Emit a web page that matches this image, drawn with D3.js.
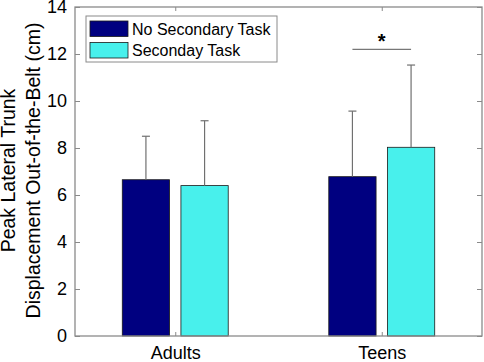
<!DOCTYPE html>
<html lang="en">
<head>
<meta charset="UTF-8">
<title>Peak lateral trunk displacement</title>
<script src="https://cdn.jsdelivr.net/npm/d3@7"></script>
<style>
body { margin: 0; background: #fff; }
text { font-family: "Liberation Sans", Arial, sans-serif; fill: #000; }
</style>
</head>
<body>
<script>

var categories = ["Adults", "Teens"];
var seriesNames = ["No Secondary Task", "Seconday Task"];
var noTaskMean = [6.65, 6.78];
var noTaskSD = [1.85, 2.79];
var taskMean = [6.40, 8.03];
var taskSD = [2.76, 3.50];
var yTicks = [0, 2, 4, 6, 8, 10, 12, 14];

var colors = ["#000080", "#48f0ec"];
var W = 484, H = 362;
var pLeft = 75, pRight = 482, pTop = 7, pBottom = 336;

var svg = d3.select("body").append("svg")
    .attr("width", W)
    .attr("height", H);

var x = d3.scaleLinear().domain([0.5, 2.5]).range([72, 485]);
var y = d3.scaleLinear().domain([0, 14]).range([pBottom, pTop]);

var offset = 0.142, bw = 0.229;

var bars = [];
categories.forEach(function(c, i) {
    bars.push({cat: i + 1, s: 0, m: noTaskMean[i], sd: noTaskSD[i]});
    bars.push({cat: i + 1, s: 1, m: taskMean[i], sd: taskSD[i]});
});

function cx(d) { return x(d.cat + (d.s == 0 ? -offset : offset)); }

svg.selectAll("rect.bar")
    .data(bars).enter().append("rect")
    .attr("class", "bar")
    .attr("x", function(d) { return cx(d) - (x(bw) - x(0)) / 2; })
    .attr("width", x(bw) - x(0))
    .attr("y", function(d) { return y(d.m); })
    .attr("height", function(d) { return y(0) - y(d.m); })
    .attr("fill", function(d) { return colors[d.s]; })
    .attr("stroke", "#1a1a1a")
    .attr("stroke-width", 0.8);

// error bars (upper half only)
svg.selectAll("line.err")
    .data(bars).enter().append("line")
    .attr("class", "err")
    .attr("x1", cx).attr("x2", cx)
    .attr("y1", function(d) { return y(d.m); })
    .attr("y2", function(d) { return y(d.m + d.sd); })
    .attr("stroke", "#707070").attr("stroke-width", 1.2);

svg.selectAll("line.cap")
    .data(bars).enter().append("line")
    .attr("class", "cap")
    .attr("x1", function(d) { return cx(d) - 4; })
    .attr("x2", function(d) { return cx(d) + 4; })
    .attr("y1", function(d) { return y(d.m + d.sd); })
    .attr("y2", function(d) { return y(d.m + d.sd); })
    .attr("stroke", "#707070").attr("stroke-width", 1.2);

// frame
svg.append("rect")
    .attr("x", pLeft).attr("y", pTop)
    .attr("width", pRight - pLeft).attr("height", pBottom - pTop)
    .attr("fill", "none").attr("stroke", "#8a8a8a").attr("stroke-width", 1.3);

// y ticks
var yAxis = d3.axisLeft(y).tickValues(yTicks).tickSize(-5).tickPadding(8);
var gy = svg.append("g").attr("transform", "translate(" + pLeft + ",0)").call(yAxis);
gy.select(".domain").remove();
gy.selectAll("line").attr("stroke", "#8a8a8a");
gy.selectAll("text").attr("font-size", 18).attr("font-family", "Liberation Sans, Arial");

var yAxisR = d3.axisRight(y).tickValues(yTicks).tickSize(-5).tickFormat("");
var gyr = svg.append("g").attr("transform", "translate(" + pRight + ",0)").call(yAxisR);
gyr.select(".domain").remove();
gyr.selectAll("line").attr("stroke", "#8a8a8a");

// x ticks
var xAxis = d3.axisBottom(x).tickValues([1, 2]).tickSize(-4).tickPadding(10)
    .tickFormat(function(d) { return categories[d - 1]; });
var gx = svg.append("g").attr("transform", "translate(0," + pBottom + ")").call(xAxis);
gx.select(".domain").remove();
gx.selectAll("line").attr("stroke", "#8a8a8a");
gx.selectAll("text").attr("font-size", 18).attr("font-family", "Liberation Sans, Arial");

var xAxisT = d3.axisTop(x).tickValues([1, 2]).tickSize(-4).tickFormat("");
var gxt = svg.append("g").attr("transform", "translate(0," + pTop + ")").call(xAxisT);
gxt.select(".domain").remove();
gxt.selectAll("line").attr("stroke", "#8a8a8a");

// y label, two lines
var yl = svg.append("text")
    .attr("transform", "translate(15,170.5) rotate(-90)")
    .attr("text-anchor", "middle")
    .attr("font-size", 19.5);
yl.append("tspan").attr("x", 0).attr("dy", 0).text("Peak Lateral Trunk");
yl.append("tspan").attr("x", 0).attr("dy", 25).text("Displacement Out-of-the-Belt (cm)");

// significance marker
var sx1 = x(2 - offset), sx2 = x(2 + offset);
svg.append("line")
    .attr("x1", sx1).attr("x2", sx2)
    .attr("y1", y(12.2)).attr("y2", y(12.2))
    .attr("stroke", "#555").attr("stroke-width", 1);
svg.append("text")
    .attr("x", (sx1 + sx2) / 2).attr("y", y(12.2) - 1)
    .attr("text-anchor", "middle")
    .attr("font-size", 20).attr("font-weight", "bold")
    .text("*");

// legend
var lg = svg.append("g").attr("transform", "translate(86,16)");
lg.append("rect").attr("width", 191).attr("height", 46)
    .attr("fill", "#fff").attr("stroke", "#8a8a8a").attr("stroke-width", 1);
seriesNames.forEach(function(n, i) {
    lg.append("rect")
        .attr("x", 4).attr("y", 5 + i * 21.5)
        .attr("width", 38).attr("height", 15.5)
        .attr("fill", colors[i]).attr("stroke", "#1a1a1a").attr("stroke-width", 0.8);
    lg.append("text")
        .attr("x", 46).attr("y", 18.5 + i * 21.5)
        .attr("font-size", 16)
        .text(n);
});

</script>
</body>
</html>
